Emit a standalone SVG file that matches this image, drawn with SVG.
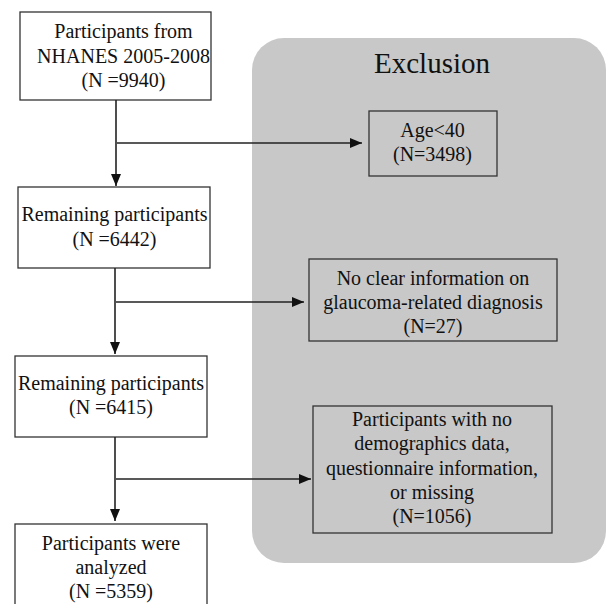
<svg xmlns="http://www.w3.org/2000/svg" width="607" height="604" viewBox="0 0 607 604" font-family="Liberation Serif, Times New Roman, serif">
<style>
.box{fill:#fff;stroke:#333;stroke-width:1.3}
.ebox{fill:none;stroke:#333;stroke-width:1.3}
text{font-family:'Liberation Serif','Times New Roman',serif;font-size:20px;fill:#111;text-anchor:middle}
.c{stroke:#222;stroke-width:1.6;fill:none}
</style>
<defs>
<marker id="ah" markerUnits="userSpaceOnUse" markerWidth="12" markerHeight="10" refX="12" refY="5" orient="auto">
<path d="M0,0 L12,5 L0,10 Z" fill="#111"/>
</marker>
</defs>
<rect width="607" height="604" fill="#fff"/>
<g id="exclusion-panel">
<rect x="252" y="38" width="354" height="525" rx="32" fill="#c8c8c8"/>
<text x="432" y="73" font-size="29" style="font-size:29px">Exclusion</text>
</g>
<g id="n1">
<rect class="box" x="20" y="12" width="191" height="88"/>
<text x="123.5" y="38">Participants from</text>
<text x="123.5" y="63">NHANES 2005-2008</text>
<text x="123.5" y="87">(N =9940)</text>
</g>
<g id="n2">
<rect class="box" x="18" y="187" width="192" height="81"/>
<text x="114.5" y="221">Remaining participants</text>
<text x="114.5" y="246">(N =6442)</text>
</g>
<g id="n3">
<rect class="box" x="15" y="356" width="192" height="81"/>
<text x="111" y="390">Remaining participants</text>
<text x="111" y="414">(N =6415)</text>
</g>
<g id="n4">
<rect class="box" x="15" y="524" width="192" height="90"/>
<text x="111" y="550">Participants were</text>
<text x="111" y="574">analyzed</text>
<text x="111" y="598">(N =5359)</text>
</g>
<g id="e1">
<rect class="ebox" x="369" y="111" width="128" height="65"/>
<text x="432.5" y="137">Age&lt;40</text>
<text x="432.5" y="161">(N=3498)</text>
</g>
<g id="e2">
<rect class="ebox" x="309" y="259" width="248" height="82"/>
<text x="433" y="285">No clear information on</text>
<text x="433" y="309">glaucoma-related diagnosis</text>
<text x="433" y="333">(N=27)</text>
</g>
<g id="e3">
<rect class="ebox" x="313" y="406" width="239" height="127"/>
<text x="432" y="426">Participants with no</text>
<text x="432" y="450">demographics data,</text>
<text x="432" y="475">questionnaire information,</text>
<text x="432" y="499">or missing</text>
<text x="432" y="523">(N=1056)</text>
</g>
<g id="connectors">
<line class="c" x1="116" y1="100" x2="116" y2="186" marker-end="url(#ah)"/>
<line class="c" x1="117" y1="143" x2="362" y2="143" marker-end="url(#ah)"/>
<line class="c" x1="115" y1="268" x2="115" y2="354" marker-end="url(#ah)"/>
<line class="c" x1="116" y1="302" x2="304" y2="302" marker-end="url(#ah)"/>
<line class="c" x1="115" y1="437" x2="115" y2="521" marker-end="url(#ah)"/>
<line class="c" x1="116" y1="479" x2="311" y2="479" marker-end="url(#ah)"/>
</g>
</svg>
